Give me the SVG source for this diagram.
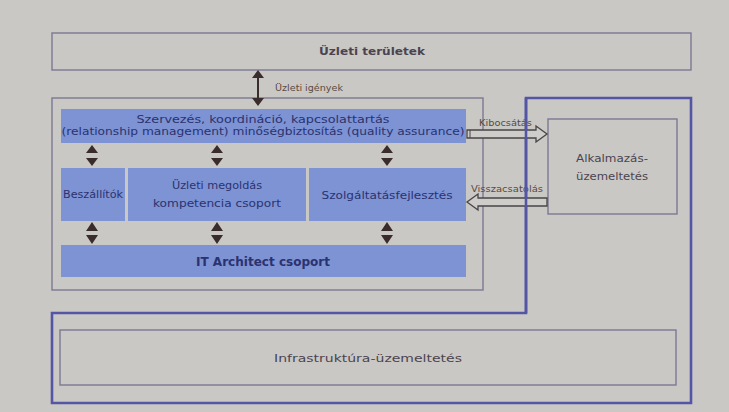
<svg xmlns="http://www.w3.org/2000/svg" width="729" height="412" viewBox="0 0 729 412">
<style>
.bg{fill:#cac8c5}
.gbox{fill:none;stroke:#7c7892;stroke-width:1.4}
.band{fill:#7d93d4}
.thick{fill:none;stroke:#5555a6;stroke-width:2.6}
.t{font-family:"DejaVu Sans Condensed","DejaVu Sans",sans-serif;fill:#4a4450}
.tb{font-family:"DejaVu Sans Condensed","DejaVu Sans",sans-serif;fill:#2b3270}
.arr{fill:#3a2c2c}
.hollow{fill:#cfcdca;stroke:#4a4448;stroke-width:1.3}
.lbl{font-family:"DejaVu Sans Condensed","DejaVu Sans",sans-serif;fill:#5a4a40;font-size:8px}
</style>
<rect class="bg" x="0" y="0" width="729" height="412"/>
<g id="frame-infra">
<path class="thick" d="M526,98 H691 V403 H52 V313 H526 Z"/>
</g>
<g id="uzleti-teruletek">
<rect class="gbox" x="52" y="33" width="639" height="37"/>
<text class="t" x="372" y="55" font-size="11" text-anchor="middle" font-weight="bold" textLength="106" lengthAdjust="spacingAndGlyphs">Üzleti területek</text>
</g>
<g id="it-container">
<rect class="gbox" x="52" y="98" width="431" height="192"/>
</g>
<g id="szervezes">
<rect class="band" x="61" y="109" width="405" height="34"/>
<text class="tb" x="263" y="122.5" font-size="10.5" text-anchor="middle" textLength="253" lengthAdjust="spacingAndGlyphs">Szervezés, koordináció, kapcsolattartás</text>
<text class="tb" x="263" y="134.5" font-size="10.5" text-anchor="middle" textLength="403" lengthAdjust="spacingAndGlyphs">(relationship management) minőségbiztosítás (quality assurance)</text>
</g>
<g id="beszallitok">
<rect class="band" x="61" y="168" width="64" height="53"/>
<text class="tb" x="93" y="198" font-size="10" text-anchor="middle" textLength="60" lengthAdjust="spacingAndGlyphs">Beszállítók</text>
</g>
<g id="uzleti-megoldas">
<rect class="band" x="128" y="168" width="178" height="53"/>
<text class="tb" x="217" y="189" font-size="11" text-anchor="middle" textLength="90" lengthAdjust="spacingAndGlyphs">Üzleti megoldás</text>
<text class="tb" x="217" y="207" font-size="11" text-anchor="middle" textLength="128" lengthAdjust="spacingAndGlyphs">kompetencia csoport</text>
</g>
<g id="szolgaltatas">
<rect class="band" x="309" y="168" width="157" height="53"/>
<text class="tb" x="387" y="199" font-size="11" text-anchor="middle" textLength="131" lengthAdjust="spacingAndGlyphs">Szolgáltatásfejlesztés</text>
</g>
<g id="it-architect">
<rect class="band" x="61" y="245" width="405" height="32"/>
<text class="tb" x="263" y="266" font-size="12" font-weight="bold" text-anchor="middle" textLength="134" lengthAdjust="spacingAndGlyphs">IT Architect csoport</text>
</g>
<g id="alkalmazas">
<rect class="gbox" x="548" y="119" width="129" height="95"/>
<text class="t" x="612" y="162" font-size="11" text-anchor="middle" textLength="72" lengthAdjust="spacingAndGlyphs">Alkalmazás-</text>
<text class="t" x="612" y="180" font-size="11" text-anchor="middle" textLength="72" lengthAdjust="spacingAndGlyphs">üzemeltetés</text>
</g>
<g id="infrastruktura">
<rect class="gbox" x="60" y="330" width="616" height="55"/>
<text class="t" x="368" y="362" font-size="11" text-anchor="middle" textLength="188" lengthAdjust="spacingAndGlyphs">Infrastruktúra-üzemeltetés</text>
</g>
<g id="connectors">
<path class="arr" d="M258,70 l-6,8 h12 Z M258,106 l-6,-8 h12 Z"/>
<rect class="arr" x="257" y="77" width="2" height="22"/>
<text class="lbl" x="275" y="91" textLength="68" lengthAdjust="spacingAndGlyphs">Üzleti igények</text>
<g id="dbl-arrows">
<path class="arr" d="M92,145 l-6,8 h12 Z M92,166 l-6,-8 h12 Z M217,145 l-6,8 h12 Z M217,166 l-6,-8 h12 Z M387,145 l-6,8 h12 Z M387,166 l-6,-8 h12 Z"/>
<path class="arr" d="M92,222 l-6,9 h12 Z M92,244 l-6,-9 h12 Z M217,222 l-6,9 h12 Z M217,244 l-6,-9 h12 Z M387,222 l-6,9 h12 Z M387,244 l-6,-9 h12 Z"/>
</g>
<path class="hollow" d="M467,130 H536 V126 L547,134 L536,142 V138 H467 Z"/>
<line x1="470" y1="130" x2="470" y2="138" stroke="#4a4448" stroke-width="1"/>
<text class="lbl" x="479" y="126" textLength="53" lengthAdjust="spacingAndGlyphs">Kibocsátás</text>
<path class="hollow" d="M547,198 H478 V194 L467,202 L478,210 V206 H547 Z"/>
<text class="lbl" x="471" y="192" textLength="72" lengthAdjust="spacingAndGlyphs">Visszacsatolás</text>
<line x1="526" y1="98" x2="526" y2="313" stroke="#5555a6" stroke-width="2.6"/>
</g>
</svg>
